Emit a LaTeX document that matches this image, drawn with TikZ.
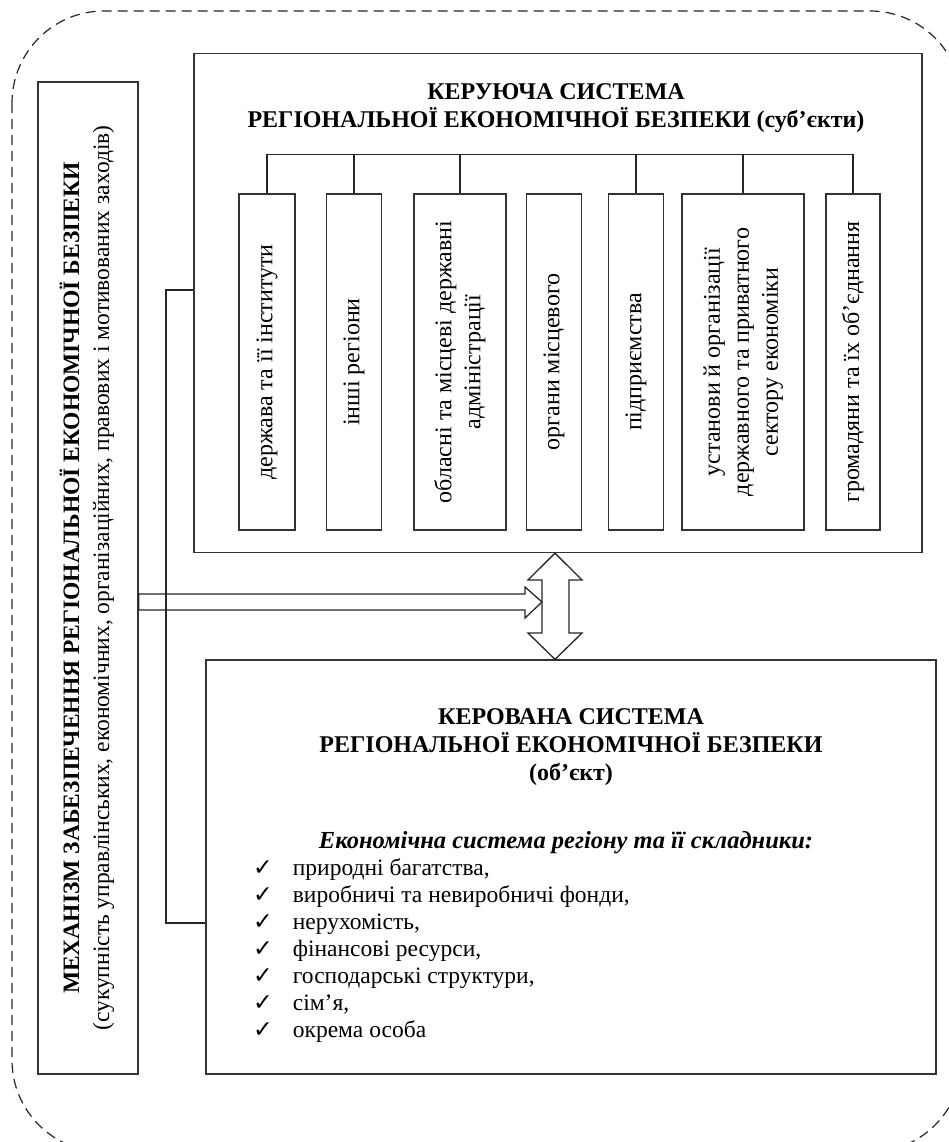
\documentclass[tikz,border=0pt]{standalone}
\usepackage{fontspec}
\setmainfont{Liberation Serif}
\newfontfamily\symfont{DejaVu Sans}
\usetikzlibrary{calc}
\begin{document}
\begin{tikzpicture}[x=1pt,y=-1pt,
  frame/.style={draw=black!80, line width=1.3pt, inner sep=0pt},
  conn/.style={draw=black!85, line width=1.2pt},
  outline/.style={draw=black!85, line width=1.2pt, dash pattern=on 10pt off 6pt, rounded corners=92pt},
  hollow/.style={draw=black!85, line width=1.3pt, line join=miter},
  ttl/.style={font=\fontsize{24}{28}\selectfont\bfseries, align=center, inner sep=0pt},
  vtext/.style={font=\fontsize{24}{29}\selectfont},
  vbox/.style={frame, minimum height=336pt, vtext}
]
\path[use as bounding box] (0,0) rectangle (949,1142);
\begin{scope}
  \clip (0,0) rectangle (949,1142);
  \draw[outline] (12,11) rectangle (962,1152);
\end{scope}

% left box
\node[frame, minimum width=100pt, minimum height=992pt] (mech) at (88,578)
  {\rotatebox{90}{\fontsize{23.5}{30}\selectfont\begin{tabular}{@{}c@{}}\bfseries МЕХАНІЗМ ЗАБЕЗПЕЧЕННЯ РЕГІОНАЛЬНОЇ ЕКОНОМІЧНОЇ БЕЗПЕКИ\\(сукупність управлінських, економічних, організаційних, правових і мотивованих заходів)\end{tabular}}};

% top box
\node[frame, minimum width=728pt, minimum height=499pt] (ctrl) at (558,303) {};
\node[ttl] (ctrlT) at (556,108) {КЕРУЮЧА СИСТЕМА\\РЕГІОНАЛЬНОЇ ЕКОНОМІЧНОЇ БЕЗПЕКИ (суб’єкти)};

% subject boxes
\node[vbox, minimum width=56pt] (b1) at (267,362) {\rotatebox{90}{держава та її інститути}};
\node[vbox, minimum width=55pt] (b2) at (354,362) {\rotatebox{90}{інші регіони}};
\node[vbox, minimum width=92pt] (b3) at (460,362) {\rotatebox{90}{\begin{tabular}{@{}c@{}}обласні та місцеві державні\\адміністрації\end{tabular}}};
\node[vbox, minimum width=55pt] (b4) at (554,362) {\rotatebox{90}{органи місцевого}};
\node[vbox, minimum width=55pt] (b5) at (636,362) {\rotatebox{90}{підприємства}};
\node[vbox, minimum width=122pt] (b6) at (743,362) {\rotatebox{90}{\begin{tabular}{@{}c@{}}установи й організації\\державного та приватного\\сектору економіки\end{tabular}}};
\node[vbox, minimum width=54pt] (b7) at (853,362) {\rotatebox{90}{громадяни та їх об’єднання}};

% bracket
\draw[conn] (b1.north) -- ++(0,-39) -| (b7.north);
\foreach \b in {b2,b3,b5,b6} \draw[conn] (\b.north) -- ++(0,-39);

% bottom box
\node[frame, minimum width=730pt, minimum height=414pt] (obj) at (571,867) {};
\node[ttl] (objT) at (571,747) {КЕРОВАНА СИСТЕМА\\РЕГІОНАЛЬНОЇ ЕКОНОМІЧНОЇ БЕЗПЕКИ\\(об’єкт)};
\node[font=\fontsize{24.5}{28}\selectfont\bfseries\itshape, inner sep=0pt] (objH) at (566,843) {Економічна система регіону та її складники:};
\node[anchor=north west, inner sep=0pt, font=\fontsize{23.5}{27}\selectfont] (objL) at (253,856)
  {\begin{tabular}{@{}l@{\hspace{20pt}}l@{}}
   {\symfont ✓} & природні багатства,\\
   {\symfont ✓} & виробничі та невиробничі фонди,\\
   {\symfont ✓} & нерухомість,\\
   {\symfont ✓} & фінансові ресурси,\\
   {\symfont ✓} & господарські структури,\\
   {\symfont ✓} & сім’я,\\
   {\symfont ✓} & окрема особа
  \end{tabular}};

% left bus
\coordinate (busTop) at (166,290);
\draw[conn] (ctrl.west |- busTop) -- (busTop) |- (obj.west |- 0,923);

% hollow horizontal arrow
\draw[hollow] (mech.east |- 0,594) -- (525,594) -- (525,587) -- (542,602) -- (525,618) -- (525,610) -- (mech.east |- 0,610) -- cycle;

% double vertical arrow
\coordinate (dt) at (ctrl.south -| 555,0);
\coordinate (db) at (obj.north -| 555,0);
\draw[hollow] (dt) -- (582,580) -- (569,580) -- (569,633) -- (582,633) -- (db) -- (528,633) -- (542,633) -- (542,580) -- (528,580) -- cycle;
\end{tikzpicture}
\end{document}
